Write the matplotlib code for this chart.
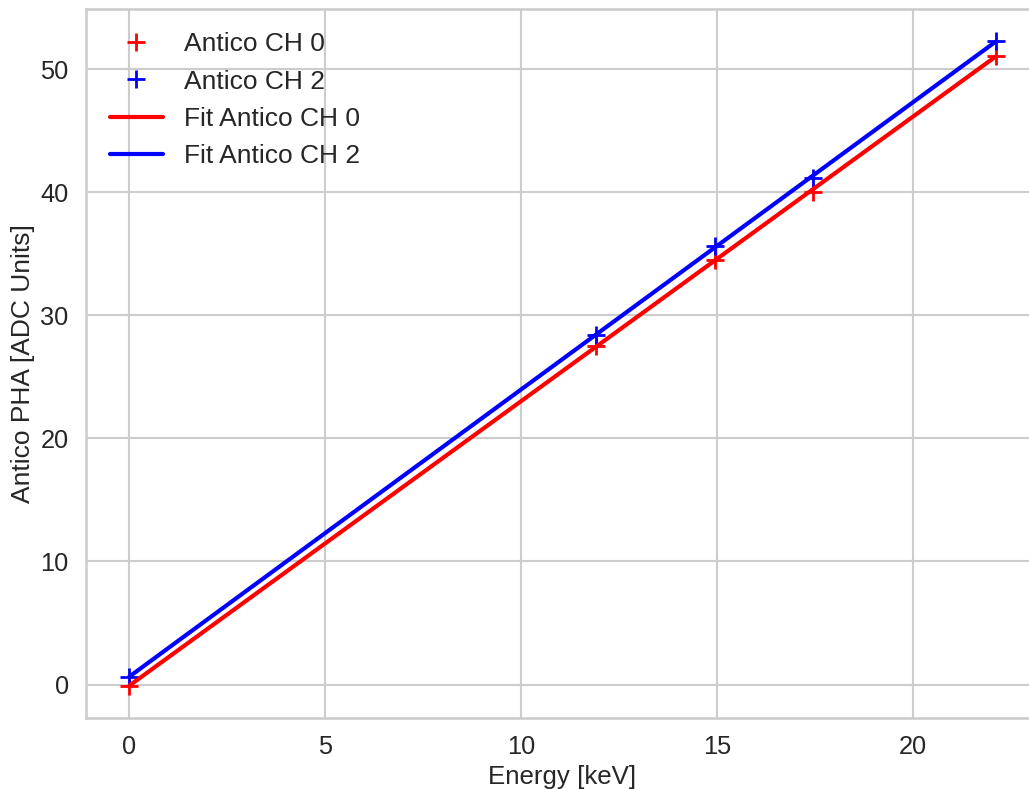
import numpy as np
import matplotlib
matplotlib.use("Agg")
import matplotlib.pyplot as plt
import seaborn as sns

# valores
energia = [0.0, 11.9, 14.93, 17.44, 22.1]
pha_ch0 = [-0.1, 27.5, 34.5, 40.05, 51.1]
pha_ch2 = [0.65, 28.4, 35.6, 41.2, 52.3]

sns.set_theme(style="whitegrid", context="talk")
plt.rcParams['font.family'] = ['Liberation Sans', 'DejaVu Sans']

fig = plt.figure(figsize=(10.29, 7.89), dpi=100)
ax = fig.add_axes([0.0836, 0.09, 0.926, 0.899])

ax.plot(energia, pha_ch0, '+', color='red', markersize=13, mew=2, label='Antico CH 0')
ax.plot(energia, pha_ch2, '+', color='blue', markersize=13, mew=2, label='Antico CH 2')

x_fit = np.array([min(energia), max(energia)])
p0 = np.polyfit(energia, pha_ch0, 1)
p2 = np.polyfit(energia, pha_ch2, 1)
ax.plot(x_fit, np.polyval(p0, x_fit), color='red', lw=3, label='Fit Antico CH 0')
ax.plot(x_fit, np.polyval(p2, x_fit), color='blue', lw=3, label='Fit Antico CH 2')

ax.set_xlabel("Energy [keV]", fontsize=18.6)
ax.set_ylabel("Antico PHA [ADC Units]", fontsize=19)
ax.tick_params(labelsize=18.3)
ax.legend(loc='upper left', fontsize=19, frameon=False)

for s in ax.spines.values():
    s.set_color('#cccccc')

fig.savefig("out.png", dpi=100)
